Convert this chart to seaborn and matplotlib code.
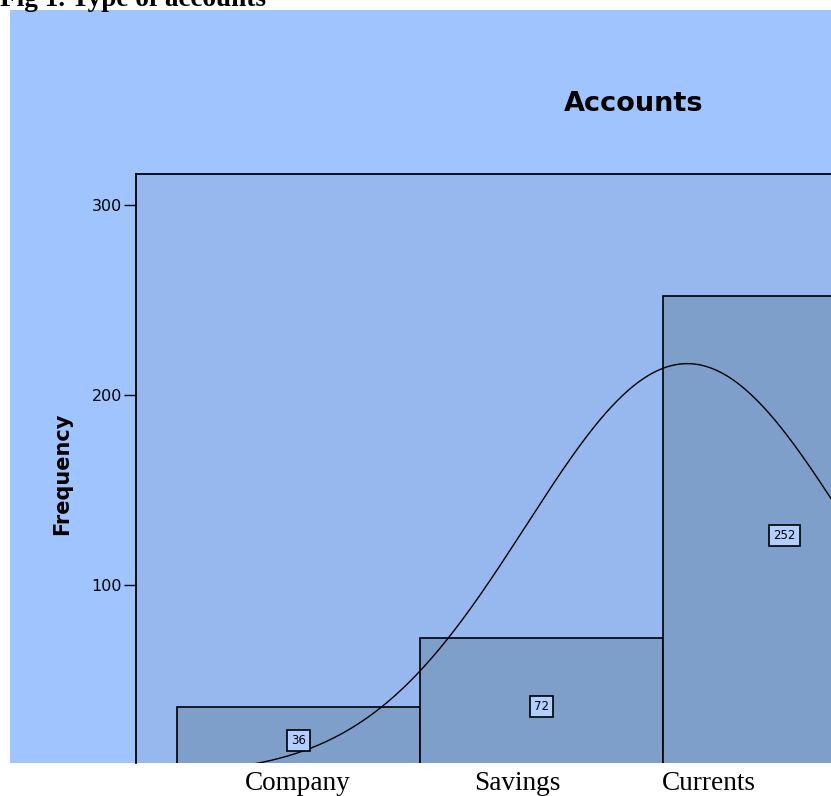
import numpy as np
import pandas as pd
import matplotlib
matplotlib.use("Agg")
import matplotlib.pyplot as plt
from matplotlib.patches import Rectangle
import seaborn as sns

# Account types and their counts
categories = ["Company", "Savings", "Currents"]
codes = [1, 2, 3]
counts = [36, 72, 252]
y_ticks = [100, 200, 300]

sns.set_style("white")
plt.rcParams["font.family"] = ["DejaVu Sans"]
plt.rcParams["text.color"] = "black"
plt.rcParams["ytick.color"] = "black"
plt.rcParams["ytick.labelcolor"] = "black"

W, H = 831, 796
fig = plt.figure(figsize=(W / 100, H / 100), dpi=100, facecolor="white")

def fx(px):
    return px / W

def fy(py):
    return 1 - py / H

# light blue chart background panel
fig.patches.append(Rectangle((fx(10), fy(763)), fx(821), 753 / H,
                             transform=fig.transFigure, facecolor="#A0C4FE",
                             edgecolor="none", zorder=-10))

# plot area
ax = fig.add_axes([fx(136), fy(763), fx(W - 136), (763 - 174) / H])
ax.set_zorder(1)
ax.set_facecolor("#96B8EE")

df = pd.DataFrame({"code": codes, "count": counts, "label": categories})
sns.histplot(data=df, x="code", weights="count", discrete=True, ax=ax,
             color="#7F9FCB", alpha=1, edgecolor="black", linewidth=1.2)

# fitted normal curve over the frequency distribution
vals = np.repeat(codes, counts)
mu, sd = vals.mean(), vals.std()
n = len(vals)
xs = np.linspace(0.2, 3.4, 400)
curve = n * 1.0 / (sd * np.sqrt(2 * np.pi)) * np.exp(-0.5 * ((xs - mu) / sd) ** 2)
sns.lineplot(x=xs, y=curve, ax=ax, color="black", linewidth=1.0)

# value labels in boxes at half bar height
for c, v in zip(codes, counts):
    ax.text(c, v / 2, str(v), ha="center", va="center", fontsize=8.5,
            color="black",
            bbox=dict(boxstyle="square,pad=0.35", facecolor="#B2CFFF",
                      edgecolor="black", linewidth=1.2))

px_per_unit = 243
ax.set_xlim(0.5 - 41 / px_per_unit, 0.5 + (W - 177) / px_per_unit)
ax.set_ylim((775 - 763) / 1.9, (775 - 174) / 1.9)
ax.set_yticks(y_ticks)
ax.set_yticklabels([str(t) for t in y_ticks], fontsize=11.5)
ax.set_xticks([])
ax.set_xlabel("")
ax.set_ylabel("")
ax.tick_params(axis="y", direction="out", length=8.5, width=1, color="black",
               labelcolor="black", left=True, pad=1.5)
for side in ["right", "bottom"]:
    ax.spines[side].set_visible(False)
for side in ["left", "top"]:
    ax.spines[side].set_color("black")
    ax.spines[side].set_linewidth(1.3)

fig.text(fx(634), fy(104), "Accounts", ha="center", va="center",
         fontsize=19.5, fontweight="bold", color="black")
fig.text(fx(62), fy(474), "Frequency", ha="center", va="center",
         rotation=90, fontsize=15, fontweight="bold", color="black")

# category names under the chart
serif = ["Liberation Serif", "DejaVu Serif"]
for name, xc in zip(categories, [298, 517, 709]):
    fig.text(fx(xc), fy(784), name, ha="center", va="center",
             fontsize=19.6, family=serif, color="black")

fig.text(fx(0), fy(6), "Fig 1. Type of accounts", ha="left", va="baseline",
         fontsize=19.6, fontweight="bold", family=serif, color="black")

fig.savefig("out.png", dpi=100, facecolor="white")
